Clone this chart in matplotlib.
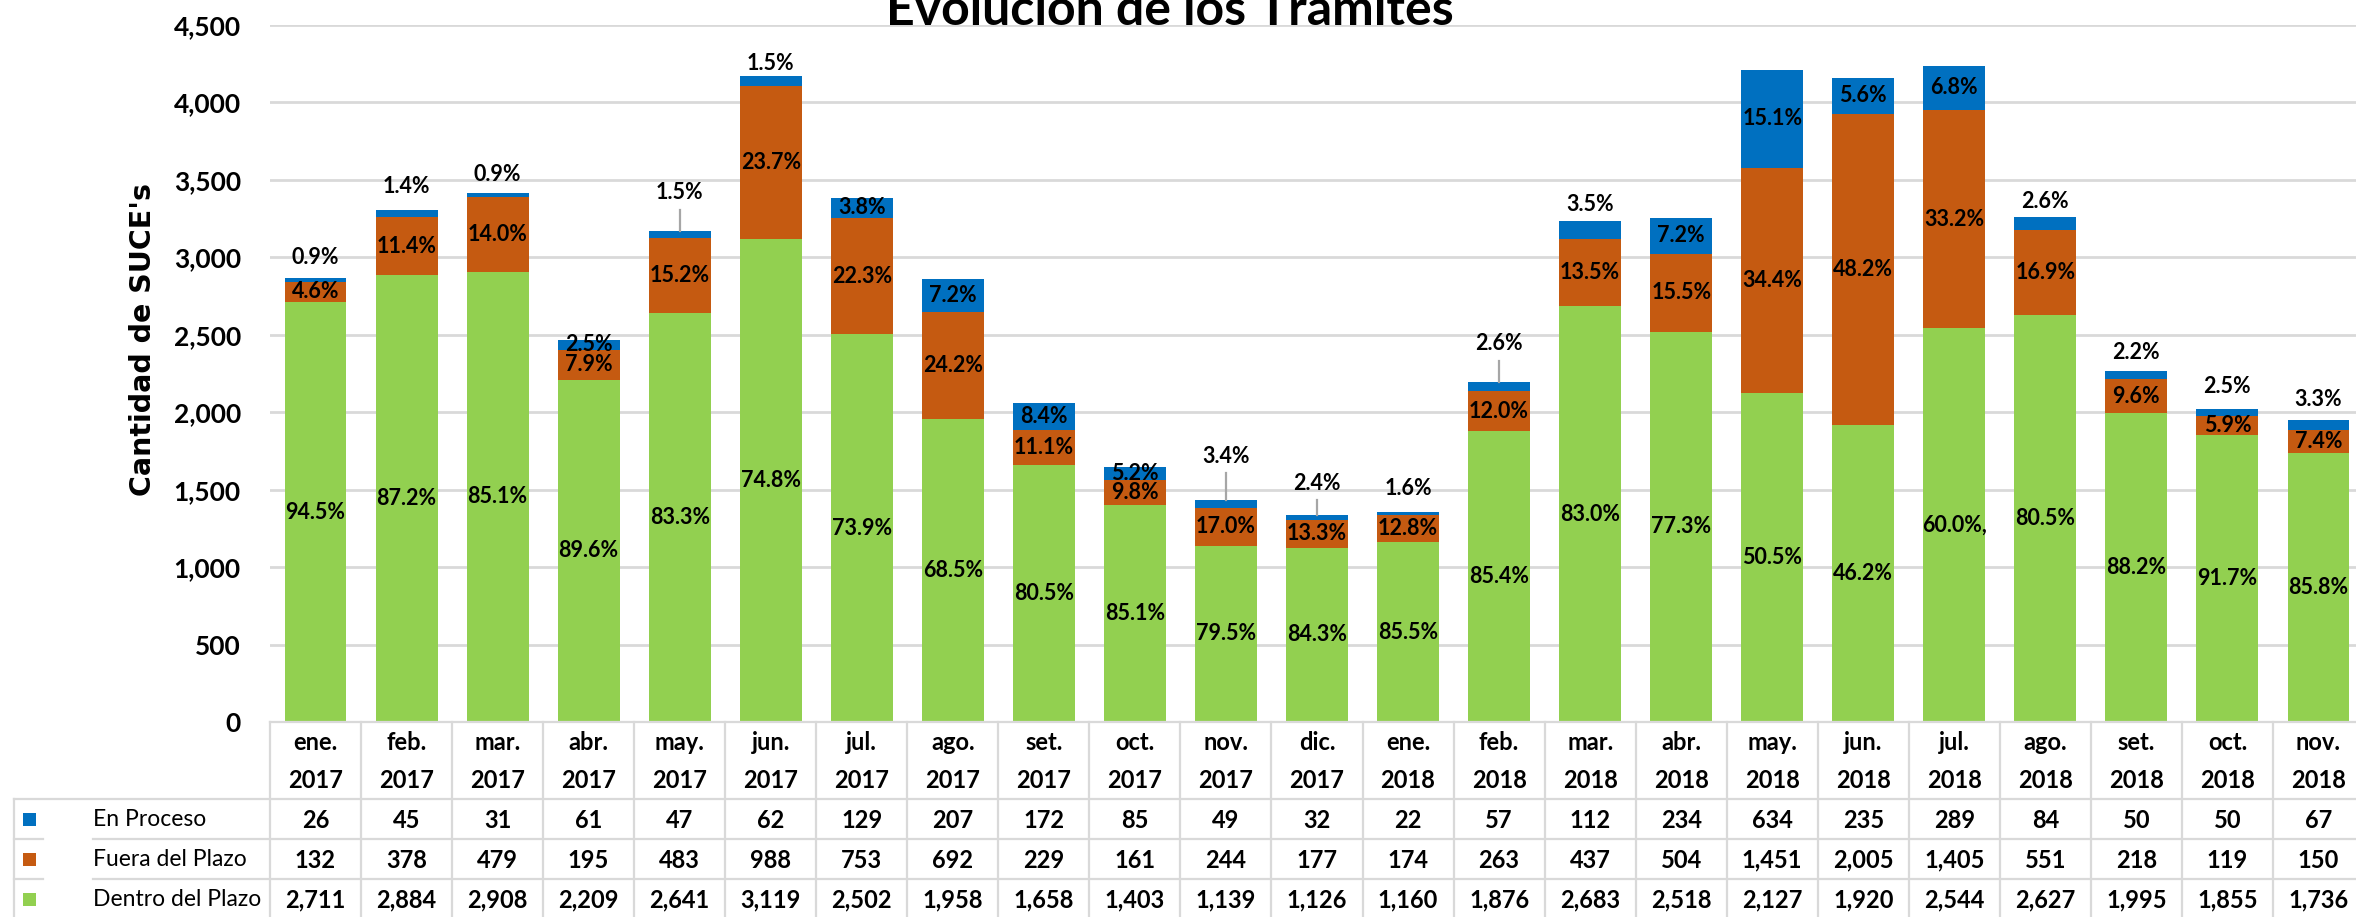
import matplotlib
matplotlib.use('Agg')
import matplotlib.pyplot as plt
import numpy as np
from matplotlib.transforms import blended_transform_factory
from matplotlib.patches import Rectangle

# ---------------- data ----------------
months = ['ene.', 'feb.', 'mar.', 'abr.', 'may.', 'jun.', 'jul.', 'ago.', 'set.', 'oct.', 'nov.', 'dic.',
          'ene.', 'feb.', 'mar.', 'abr.', 'may.', 'jun.', 'jul.', 'ago.', 'set.', 'oct.', 'nov.']
years = ['2017'] * 12 + ['2018'] * 11

en_proceso = [26, 45, 31, 61, 47, 62, 129, 207, 172, 85, 49, 32,
              22, 57, 112, 234, 634, 235, 289, 84, 50, 50, 67]
fuera_plazo = [132, 378, 479, 195, 483, 988, 753, 692, 229, 161, 244, 177,
               174, 263, 437, 504, 1451, 2005, 1405, 551, 218, 119, 150]
dentro_plazo = [2711, 2884, 2908, 2209, 2641, 3119, 2502, 1958, 1658, 1403, 1139, 1126,
                1160, 1876, 2683, 2518, 2127, 1920, 2544, 2627, 1995, 1855, 1736]

lbl_proceso = ['0.9%', '1.4%', '0.9%', '2.5%', '1.5%', '1.5%', '3.8%', '7.2%', '8.4%', '5.2%', '3.4%', '2.4%',
               '1.6%', '2.6%', '3.5%', '7.2%', '15.1%', '5.6%', '6.8%', '2.6%', '2.2%', '2.5%', '3.3%']
lbl_fuera = ['4.6%', '11.4%', '14.0%', '7.9%', '15.2%', '23.7%', '22.3%', '24.2%', '11.1%', '9.8%', '17.0%', '13.3%',
             '12.8%', '12.0%', '13.5%', '15.5%', '34.4%', '48.2%', '33.2%', '16.9%', '9.6%', '5.9%', '7.4%']
lbl_dentro = ['94.5%', '87.2%', '85.1%', '89.6%', '83.3%', '74.8%', '73.9%', '68.5%', '80.5%', '85.1%', '79.5%', '84.3%',
              '85.5%', '85.4%', '83.0%', '77.3%', '50.5%', '46.2%', '60.0%,', '80.5%', '88.2%', '91.7%', '85.8%']

series_names = ['En Proceso', 'Fuera del Plazo', 'Dentro del Plazo']
y_ticks = [0, 500, 1000, 1500, 2000, 2500, 3000, 3500, 4000, 4500]

# ---------------- layout / style ----------------
BLUE = '#0070C0'
ORANGE = '#C55A11'
GREEN = '#92D050'
GRID = '#D9D9D9'
LEADER = '#A6A6A6'
FONT = 'Lato'

# blue label placement: None -> inside segment, number -> px above bar top
blue_above_px = [20, 23, 18, None, 38, 13, None, None, None, None, 44, 32,
                 23, 38, 17, None, None, None, None, 15, 19, 22, 20]
leader_bars = {4, 10, 11, 13}

W, H = 2356, 917
fig = plt.figure(figsize=(W / 100, H / 100), dpi=100)


def fx(px):
    return px / W


def fy(py):
    return 1 - py / H


ax_left, ax_right, ax_top, ax_bot = 270, 2364, 25, 722
ax = fig.add_axes([fx(ax_left), fy(ax_bot), fx(ax_right) - fx(ax_left), fy(ax_top) - fy(ax_bot)])

n = len(months)
x = np.arange(n)
d = np.array(dentro_plazo)
f = np.array(fuera_plazo)
p = np.array(en_proceso)
bw = 0.68

ax.bar(x, d, width=bw, color=GREEN, zorder=2)
ax.bar(x, f, bottom=d, width=bw, color=ORANGE, zorder=2)
ax.bar(x, p, bottom=d + f, width=bw, color=BLUE, zorder=2)

ax.set_xlim(-0.5, n - 0.5)
ax.set_ylim(0, 4500)
ax.set_axisbelow(True)
ax.yaxis.grid(True, color=GRID, lw=2.0, zorder=0)
ax.set_yticks(y_ticks)
ax.set_yticklabels([f'{v:,}' for v in y_ticks], fontsize=19, fontweight='bold', family=FONT)
ax.tick_params(axis='y', length=0, pad=21)
ax.set_xticks([])
for s in ax.spines.values():
    s.set_visible(False)

ppu = (ax_bot - ax_top) / 4500.0  # pixels per unit

lab_kw = dict(ha='center', va='center', fontsize=15.5, fontweight='bold', family=FONT, zorder=5)
for i in range(n):
    ax.text(x[i], d[i] / 2, lbl_dentro[i], **lab_kw)
    ax.text(x[i], d[i] + f[i] / 2, lbl_fuera[i], **lab_kw)
    top = d[i] + f[i] + p[i]
    off = blue_above_px[i]
    if off is None:
        ax.text(x[i], d[i] + f[i] + p[i] / 2, lbl_proceso[i], **lab_kw)
    else:
        yl = top + off / ppu
        ax.text(x[i], yl, lbl_proceso[i], **lab_kw)
        if i in leader_bars:
            ax.plot([x[i], x[i]], [top, yl - 17 / ppu], color=LEADER, lw=1.6, zorder=4)

# y label
fig.text(fx(143), fy(340), "Cantidad de SUCE's", rotation=90, ha='center', va='center',
         fontsize=20.5, fontweight='bold', family='DejaVu Sans')

# title (partly cut off at the top, as in the reference)
fig.text(fx(1170), fy(25), 'Evolución de los Trámites', ha='center', va='baseline',
         fontsize=36, fontweight='bold', family=FONT)

# ---------------- data table ----------------
trans = blended_transform_factory(ax.transData, fig.transFigure)
lw_t = 1.6
for i in range(n + 1):
    ax.plot([i - 0.5, i - 0.5], [fy(722), fy(930)], transform=trans, color=GRID, lw=lw_t, clip_on=False)
fig.add_artist(plt.Line2D([fx(270), 1], [fy(722), fy(722)], color=GRID, lw=lw_t))
fig.add_artist(plt.Line2D([fx(14), 1], [fy(799), fy(799)], color=GRID, lw=lw_t))
for yy in (839, 879):
    fig.add_artist(plt.Line2D([fx(14), fx(43)], [fy(yy), fy(yy)], color=GRID, lw=lw_t))
    fig.add_artist(plt.Line2D([fx(93), 1], [fy(yy), fy(yy)], color=GRID, lw=lw_t))
fig.add_artist(plt.Line2D([fx(14), fx(14)], [fy(799), fy(930)], color=GRID, lw=lw_t))

tab_kw = dict(ha='center', va='center', fontsize=17, fontweight='bold', family=FONT, transform=trans, clip_on=False)
row_y = [820, 860, 900]
row_vals = [en_proceso, fuera_plazo, dentro_plazo]
for i in range(n):
    ax.text(x[i], fy(743), months[i], **tab_kw)
    ax.text(x[i], fy(780), years[i], **tab_kw)
    for r in range(3):
        ax.text(x[i], fy(row_y[r]), f'{row_vals[r][i]:,}', **tab_kw)

for r, (name, col) in enumerate(zip(series_names, [BLUE, ORANGE, GREEN])):
    yc = row_y[r] - 1
    fig.add_artist(Rectangle((fx(23), fy(yc + 7)), 13 / W, 13 / H, transform=fig.transFigure,
                             facecolor=col, edgecolor='none'))
    fig.text(fx(93), fy(row_y[r]), name, ha='left', va='center', fontsize=16.5, family=FONT)

fig.savefig('out.png', dpi=100)
